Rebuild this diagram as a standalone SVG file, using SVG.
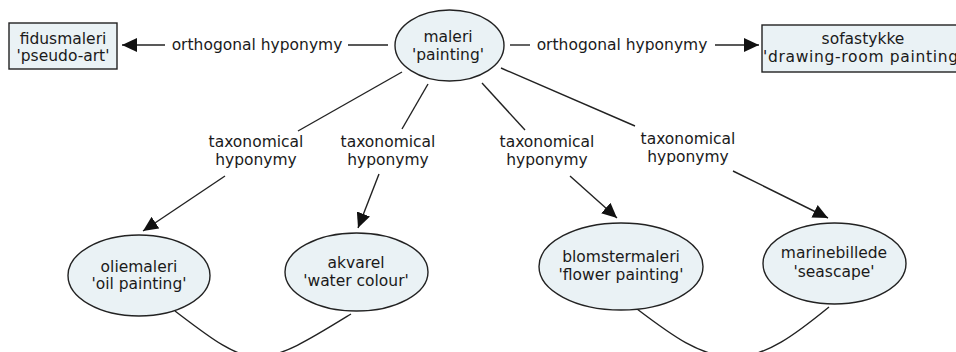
<svg xmlns="http://www.w3.org/2000/svg" width="956" height="352" viewBox="0 0 956 352">
<style>
text{font-family:"DejaVu Sans","Verdana",sans-serif;font-size:15.5px;fill:#1a1a1a;text-anchor:middle}
.node{fill:#eaf2f5;stroke:#222;stroke-width:1.4}
.ln{fill:none;stroke:#222;stroke-width:1.4}
</style>
<defs>
<marker id="ah" markerUnits="userSpaceOnUse" markerWidth="16" markerHeight="14" refX="15" refY="7" orient="auto">
<path d="M0,0 L15,7 L0,14 Z" fill="#111"/>
</marker>
</defs>
<rect width="956" height="352" fill="#fff"/>
<g id="connectors">
<line class="ln" x1="388" y1="45" x2="348" y2="45"/>
<line class="ln" x1="165" y1="45" x2="122" y2="45" marker-end="url(#ah)"/>
<line class="ln" x1="510" y1="45" x2="530" y2="45"/>
<line class="ln" x1="715" y1="45" x2="759" y2="45" marker-end="url(#ah)"/>
<line class="ln" x1="402" y1="72" x2="298" y2="131"/>
<line class="ln" x1="225" y1="176" x2="143" y2="231" marker-end="url(#ah)"/>
<line class="ln" x1="428" y1="84" x2="402" y2="129"/>
<line class="ln" x1="379" y1="174" x2="358" y2="228" marker-end="url(#ah)"/>
<line class="ln" x1="482" y1="83" x2="525" y2="130"/>
<line class="ln" x1="570" y1="176" x2="617" y2="218" marker-end="url(#ah)"/>
<line class="ln" x1="501" y1="68" x2="635" y2="126"/>
<line class="ln" x1="733" y1="171" x2="828" y2="218" marker-end="url(#ah)"/>
<path class="ln" d="M175,311 C208,336 234,357 258,357 C282,357 312,338 351,314"/>
<path class="ln" d="M637,309 C670,334 700,357 734,357 C766,357 796,334 829,307"/>
<text x="256" y="147">taxonomical</text>
<text x="256" y="165">hyponymy</text>
<text x="388" y="147">taxonomical</text>
<text x="388" y="165">hyponymy</text>
<text x="547" y="147">taxonomical</text>
<text x="547" y="165">hyponymy</text>
<text x="688" y="144">taxonomical</text>
<text x="688" y="162">hyponymy</text>
<text x="257" y="50">orthogonal hyponymy</text>
<text x="622" y="50">orthogonal hyponymy</text>
</g>
<g id="maleri">
<ellipse class="node" cx="449.5" cy="45.5" rx="54.5" ry="35.5"/>
<text x="448" y="42">maleri</text>
<text x="448" y="60">'painting'</text>
</g>
<g id="fidusmaleri">
<rect class="node" x="9" y="23" width="108" height="46"/>
<text x="63" y="44">fidusmaleri</text>
<text x="63" y="61">'pseudo-art'</text>
</g>
<g id="sofastykke">
<rect class="node" x="762" y="25" width="204" height="47"/>
<text x="863" y="44">sofastykke</text>
<text x="863" y="62" textLength="200" lengthAdjust="spacing">'drawing-room painting'</text>
</g>
<g id="oliemaleri">
<ellipse class="node" cx="139" cy="275.5" rx="71" ry="40.5"/>
<text x="139" y="272">oliemaleri</text>
<text x="139" y="289">'oil painting'</text>
</g>
<g id="akvarel">
<ellipse class="node" cx="356.5" cy="272" rx="71.5" ry="39"/>
<text x="356" y="268">akvarel</text>
<text x="356" y="286">'water colour'</text>
</g>
<g id="blomstermaleri">
<ellipse class="node" cx="621" cy="266.5" rx="82" ry="43.5"/>
<text x="621" y="262">blomstermaleri</text>
<text x="621" y="280">'flower painting'</text>
</g>
<g id="marinebillede">
<ellipse class="node" cx="834.5" cy="263.5" rx="71.5" ry="40.5"/>
<text x="834" y="258">marinebillede</text>
<text x="834" y="277">'seascape'</text>
</g>
</svg>
